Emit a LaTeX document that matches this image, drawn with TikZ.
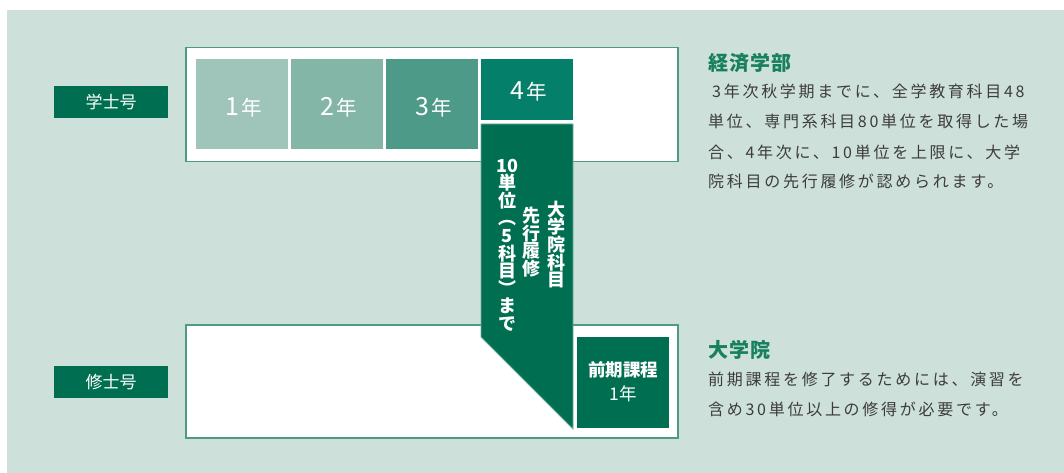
\documentclass[tikz,border=0pt]{standalone}
\usepackage{fontspec}
\setmainfont{Noto Sans CJK JP}
\newfontfamily\jpbody[LetterSpace=17]{Noto Sans CJK JP}
\newfontfamily\jptitle[LetterSpace=6]{Noto Sans CJK JP}
\newcommand{\tightlines}{\lineskiplimit=-30pt\relax\lineskip=0pt\relax}
\definecolor{bgc}{HTML}{CDE0D9}
\definecolor{boxline}{HTML}{4E9A85}
\definecolor{yone}{HTML}{9FC5BA}
\definecolor{ytwo}{HTML}{84B6A8}
\definecolor{ythree}{HTML}{4C9A87}
\definecolor{yfour}{HTML}{04806A}
\definecolor{darkg}{HTML}{006F51}
\definecolor{titleg}{HTML}{17805F}
\definecolor{bodyc}{HTML}{3C3C3C}
\definecolor{penline}{HTML}{74AF9C}
\tikzset{
  whitebox/.style={draw=boxline, fill=white, line width=1.2pt, inner sep=0pt},
  yearbox/.style={inner sep=0pt, minimum width=92pt, minimum height=90pt},
  yeartext/.style={text=white, inner sep=0pt, anchor=base},
  degbox/.style={fill=darkg, inner sep=0pt, minimum width=114pt, minimum height=32pt, text=white, font=\fontsize{17}{17}\selectfont},
  vtext/.style={text=white, inner sep=0pt, align=center, font=\fontsize{18}{17.6}\selectfont\bfseries\tightlines},
  titletext/.style={text=titleg, inner sep=0pt, anchor=base west, font=\fontsize{20}{20}\selectfont\bfseries\jptitle},
  bodytext/.style={text=bodyc, inner sep=0pt, anchor=base west, font=\fontsize{16}{16}\selectfont\jpbody},
}
\newcommand{\yr}[1]{{\fontsize{25}{25}\selectfont #1}\hspace{2pt}{\fontsize{20.5}{20.5}\selectfont 年}}
\begin{document}
\begin{tikzpicture}[x=1pt,y=-1pt]
\useasboundingbox (0,0) rectangle (1064,473);
\fill[white] (0,0) rectangle (1064,473);
\fill[bgc] (7,10) rectangle (1064,473);
% white boxes
\node[whitebox, minimum width=492pt, minimum height=114pt] (ub) at (432,104.5) {};
\node[whitebox, minimum width=492pt, minimum height=113pt] (lb) at (432,381.5) {};
% degree labels
\node[degbox] (bach) at (111,102) {学士号};
\node[degbox] (mast) at (111,382) {修士号};
% year boxes
\node[yearbox, fill=yone] (y1) at (242,104) {};
\node[yearbox, fill=ytwo] (y2) at (337,104) {};
\node[yearbox, fill=ythree] (y3) at (432,104) {};
\node[yearbox, fill=yfour, minimum height=61pt] (y4) at (527,89.5) {};
\node[yeartext] (y1t) at (244,116) {\yr{1}};
\node[yeartext] (y2t) at (339,116) {\yr{2}};
\node[yeartext] (y3t) at (434,116) {\yr{3}};
\node[yeartext] (y4t) at (529,100) {\yr{4}};
% pentagon band
\filldraw[fill=darkg, draw=penline, line width=0.8pt] (481,124) -- (573,124) -- (573,429) -- (481,337) -- cycle;
\node[vtext] (c1) at (556,244.5) {大\\学\\院\\科\\目};
\node[vtext] (c2) at (531,242) {先\\行\\履\\修};
\node[vtext] (c3) at (507,245) {10\\単\\位\\︵\\5\\科\\目\\︶\\ま\\で};
% first-term box
\node[fill=darkg, inner sep=0pt, minimum width=92pt, minimum height=91pt] (zk) at (623,382.5) {};
\node[text=white, align=center, inner sep=0pt, font=\fontsize{17.5}{24}\selectfont] (zkt) at (623,382) {\textbf{前期課程}\\1年};
% right texts
\node[titletext] (h1) at (708,71) {経済学部};
\node[bodytext] (l1) at (708,98) {\hspace{4pt}3年次秋学期までに、全学教育科目48};
\node[bodytext] (l2) at (708,128) {単位、専門系科目80単位を取得した場};
\node[bodytext] (l3) at (708,158) {合、4年次に、10単位を上限に、大学};
\node[bodytext] (l4) at (708,187) {院科目の先行履修が認められます。};
\node[titletext] (h2) at (708,357) {大学院};
\node[bodytext] (m1) at (708,385) {前期課程を修了するためには、演習を};
\node[bodytext] (m2) at (708,415) {含め30単位以上の修得が必要です。};
\end{tikzpicture}
\end{document}
